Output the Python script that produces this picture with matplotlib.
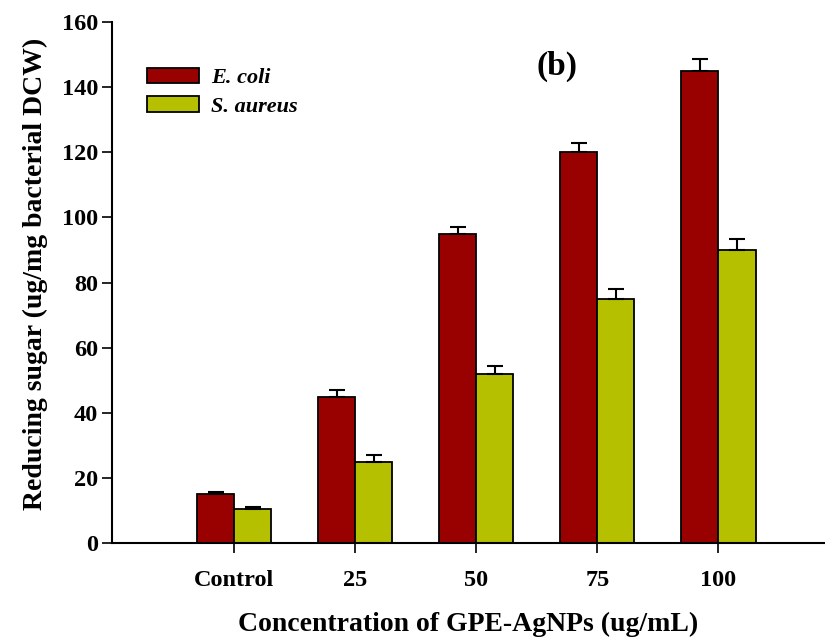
import matplotlib
matplotlib.use('Agg')
import matplotlib.pyplot as plt
import numpy as np

categories = ['Control', '25', '50', '75', '100']
ecoli = [15, 45, 95, 120, 145]
ecoli_err = [0.8, 2.0, 2.2, 3.0, 3.5]
saureus = [10.5, 25, 52, 75, 90]
saureus_err = [0.5, 2.0, 2.5, 3.0, 3.5]

plt.rcParams['font.family'] = 'Liberation Serif'
plt.rcParams['font.weight'] = 'bold'

fig = plt.figure(figsize=(8.25, 6.39), dpi=100)
ax = fig.add_axes([0.136, 0.150, 0.864, 0.8156])

x = np.arange(len(categories))
w = 0.306
err_kw = dict(ecolor='black', elinewidth=1.5, capsize=6, capthick=1.5)
ax.bar(x - w / 2, ecoli, width=w, color='#990000', edgecolor='black', linewidth=1.3,
       yerr=[np.zeros(len(ecoli)), ecoli_err], error_kw=err_kw, label='E. coli')
ax.bar(x + w / 2, saureus, width=w, color='#b5c000', edgecolor='black', linewidth=1.3,
       yerr=[np.zeros(len(saureus)), saureus_err], error_kw=err_kw, label='S. aureus')

ax.set_xlim(-1.008, 4.88)
ax.set_ylim(0, 160)
ax.set_xticks(x)
ax.set_xticklabels(categories)
ax.set_yticks(np.arange(0, 161, 20))
ax.spines['top'].set_visible(False)
ax.spines['right'].set_visible(False)
for s in ('left', 'bottom'):
    ax.spines[s].set_linewidth(1.5)
ax.tick_params(direction='out', length=7, width=1.2, labelsize=17.5)
ax.tick_params(axis='x', pad=12)
ax.tick_params(axis='y', pad=3)

ax.set_xlabel('Concentration of GPE-AgNPs (ug/mL)', fontsize=20, fontweight='bold', labelpad=15.5)
ax.set_ylabel('Reducing sugar (ug/mg bacterial DCW)', fontsize=20, fontweight='bold', labelpad=10)
ax.yaxis.label.set_y(0.516)

ax.legend(loc='upper left', bbox_to_anchor=(0.049, 0.912), frameon=False,
          borderpad=0, borderaxespad=0,
          handlelength=2.34, handleheight=0.7, handletextpad=0.55, labelspacing=0.34,
          prop={'family': 'Liberation Serif', 'weight': 'bold', 'style': 'italic', 'size': 16})

ax.text(0.624, 0.914, '(b)', transform=ax.transAxes, fontsize=24, fontweight='bold',
        ha='center', va='center')

fig.savefig('out.png', dpi=100)
